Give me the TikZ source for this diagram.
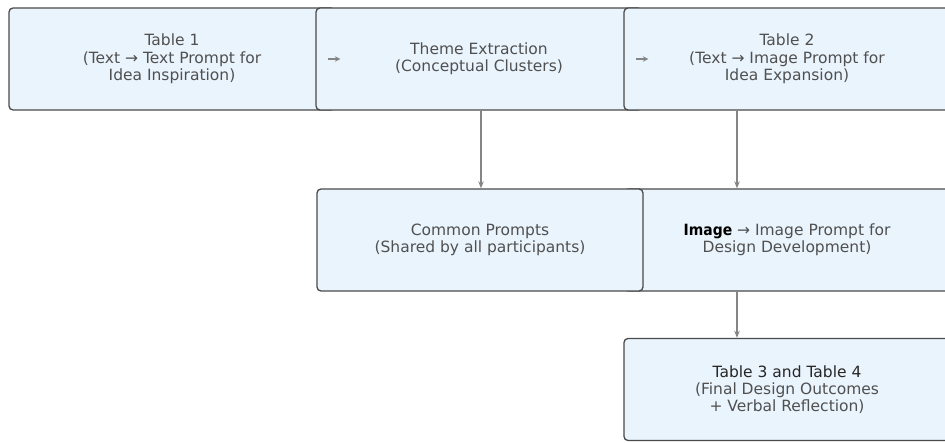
\documentclass[tikz,border=0pt]{standalone}
\usepackage{fontspec}
\setmainfont{DejaVu Sans}
\newfontfamily\condfont{DejaVu Sans Condensed}
\usetikzlibrary{arrows.meta}
\definecolor{boxfill}{HTML}{EAF4FD}
\definecolor{boxline}{HTML}{4A4A4A}
\definecolor{txt}{HTML}{505050}
\definecolor{arr}{HTML}{858585}
\begin{document}
\begin{tikzpicture}[x=1pt,y=-1pt,
  box/.style={draw=boxline, fill=boxfill, rounded corners=4pt, line width=1.3pt,
    minimum width=326pt, minimum height=102pt, inner sep=0pt, text=txt,
    align=center, font=\fontsize{15.5}{17.3}\selectfont},
  conn/.style={draw=arr, line width=1.3pt, -{Stealth[length=7pt,width=5.5pt]}},
  tiny/.style={draw=arr, line width=1.2pt, -{Stealth[length=5.5pt,width=5.5pt]}}]
\useasboundingbox (0,0) rectangle (945,442);
% row 1
\node[box] (b1) at (172,59) {Table 1\\(Text → Text Prompt for\\Idea Inspiration)};
\node[box] (b2) at (479,59) {Theme Extraction\\(Conceptual Clusters)};
\node[box] (b3) at (787,59) {Table 2\\(Text → Image Prompt for\\Idea Expansion)};
% row 2
\node[box] (img) at (787,240) {\textcolor{black}{\condfont\bfseries Image} → Image Prompt for\\Design Development)};
\node[box] (common) at (480,240) {Common Prompts\\(Shared by all participants)};
% row 3
\node[box] (b4) at (787,389.5) {\textcolor{black!85}{Table 3 and Table 4}\\(Final Design Outcomes\\+ Verbal Reflection)};
% small arrows
\draw[tiny] ([xshift=13pt]b2.west) -- ([xshift=25pt]b2.west);
\draw[tiny] ([xshift=13pt]b3.west) -- ([xshift=25pt]b3.west);
% vertical connectors
\draw[conn] ([xshift=2pt]b2.south) -- ([xshift=1pt]common.north);
\draw[conn] ([xshift=-50pt]b3.south) -- ([xshift=-50pt]img.north);
\draw[conn] ([xshift=-50pt]img.south) -- ([xshift=-50pt]b4.north);
\end{tikzpicture}
\end{document}
